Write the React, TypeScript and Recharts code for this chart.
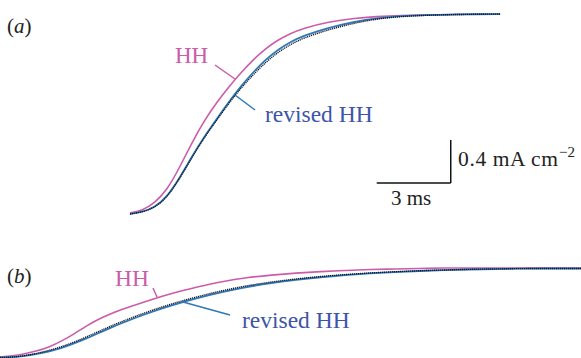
import { LineChart, Line, XAxis, YAxis, ReferenceLine } from 'recharts';

// panel (a): time in ms, current in mA cm^-2
const timeA = [0, 0.5, 1, 1.5, 2, 2.5, 3, 3.5, 4, 4.5, 5, 5.5, 6, 6.5, 7, 8, 9, 10, 11, 12, 13, 14, 15];
const hhA = [0.009, 0.033, 0.102, 0.223, 0.428, 0.66, 0.865, 1.033, 1.181, 1.316, 1.437, 1.54, 1.619, 1.679, 1.726, 1.786, 1.819, 1.837, 1.847, 1.851, 1.856, 1.858, 1.86];
const revisedA = [0, 0.019, 0.06, 0.158, 0.33, 0.53, 0.716, 0.879, 1.042, 1.191, 1.321, 1.437, 1.53, 1.6, 1.656, 1.73, 1.786, 1.823, 1.842, 1.851, 1.856, 1.858, 1.86];
const dataA = [0, 0.019, 0.058, 0.154, 0.325, 0.525, 0.71, 0.868, 1.03, 1.172, 1.298, 1.412, 1.505, 1.577, 1.635, 1.712, 1.772, 1.815, 1.838, 1.849, 1.855, 1.858, 1.86];

// panel (b)
const timeB = [0, 0.5, 1, 1.5, 2, 2.5, 3, 3.5, 4, 4.5, 5, 6, 7, 8, 9, 10, 11, 12, 13, 14, 15, 16, 17, 18, 19, 20, 21, 22, 23, 23.6];
const hhB = [0.005, 0.014, 0.033, 0.06, 0.098, 0.153, 0.219, 0.293, 0.358, 0.409, 0.451, 0.53, 0.6, 0.656, 0.707, 0.744, 0.767, 0.786, 0.8, 0.809, 0.819, 0.823, 0.828, 0.833, 0.833, 0.833, 0.833, 0.833, 0.833, 0.833];
const revisedB = [0, 0.003, 0.014, 0.033, 0.056, 0.088, 0.13, 0.177, 0.228, 0.279, 0.326, 0.414, 0.488, 0.553, 0.609, 0.656, 0.693, 0.723, 0.747, 0.767, 0.783, 0.795, 0.805, 0.812, 0.819, 0.823, 0.826, 0.828, 0.828, 0.828];
const dataB = [0, 0.003, 0.016, 0.038, 0.066, 0.1, 0.143, 0.191, 0.242, 0.293, 0.34, 0.428, 0.502, 0.567, 0.622, 0.668, 0.703, 0.731, 0.754, 0.772, 0.787, 0.798, 0.807, 0.814, 0.82, 0.824, 0.827, 0.828, 0.828, 0.828];

const rowsA = timeA.map((t, i) => ({ t, hh: hhA[i], revised: revisedA[i], data: dataA[i] }));
const rowsB = timeB.map((t, i) => ({ t, hh: hhB[i], revised: revisedB[i], data: dataB[i] }));

const PINK = '#cc5ca8';
const BLUE = '#2f78b8';
const TEXT_BLUE = '#3c55a8';
const FONT = 'Liberation Serif';

function Curves() {
  return [
    <Line key="hh" dataKey="hh" type="basis" stroke={PINK} strokeWidth={1.6} dot={false} activeDot={false} isAnimationActive={false} />,
    <Line key="rev" dataKey="revised" type="basis" stroke={BLUE} strokeWidth={1.8} dot={false} activeDot={false} isAnimationActive={false} />,
    <Line key="data" dataKey="data" type="basis" stroke="#111827" strokeWidth={1.4} strokeDasharray="1.2 0.8" dot={false} activeDot={false} isAnimationActive={false} />,
  ];
}

export default function App() {
  return (
    <div style={{ position: 'absolute', left: 0, top: 0, width: 581, height: 358, background: '#fff', overflow: 'hidden' }}>
      <div style={{ position: 'absolute', left: 0, top: 0 }}>
        <LineChart width={581} height={240} data={rowsA} margin={{ top: 0, right: 0, bottom: 0, left: 0 }}>
          <XAxis type="number" dataKey="t" domain={[-5.27, 18.28]} allowDataOverflow hide />
          <YAxis type="number" domain={[-0.2419, 1.9907]} allowDataOverflow hide />
          {Curves()}
          <ReferenceLine segment={[{ x: 10, y: 0.288 }, { x: 13, y: 0.288 }]} stroke="#111" strokeWidth={1.5} />
          <ReferenceLine segment={[{ x: 13, y: 0.288 }, { x: 13, y: 0.688 }]} stroke="#111" strokeWidth={1.5} />
        </LineChart>
      </div>
      <div style={{ position: 'absolute', left: 0, top: 240 }}>
        <LineChart width={581} height={118} data={rowsB} margin={{ top: 0, right: 0, bottom: 0, left: 0 }}>
          <XAxis type="number" dataKey="t" domain={[0, 23.55]} allowDataOverflow hide />
          <YAxis type="number" domain={[-0.0047, 1.093]} allowDataOverflow hide />
          {Curves()}
        </LineChart>
      </div>
      <svg width={581} height={358} fontFamily={FONT} style={{ position: 'absolute', left: 0, top: 0, pointerEvents: 'none' }}>
        <text x={7} y={33} fontSize={21} fill="#222">(<tspan fontStyle="italic">a</tspan>)</text>
        <text x={7} y={283} fontSize={21} fill="#222">(<tspan fontStyle="italic">b</tspan>)</text>

        <text x={175} y={63} fontSize={23} fill={PINK}>HH</text>
        <line x1={215} y1={65} x2={235} y2={79} stroke={PINK} strokeWidth={1.5} />
        <text x={265} y={122} fontSize={23.5} fill={TEXT_BLUE}>revised HH</text>
        <line x1={235} y1={95} x2={255} y2={110} stroke={BLUE} strokeWidth={1.5} />

        <text x={458} y={166} fontSize={21.5} fill="#222" textLength={100} lengthAdjust="spacing">0.4 mA cm</text>
        <text x={559} y={157} fontSize={15} fill="#222">−2</text>
        <text x={391} y={205} fontSize={21} fill="#222">3 ms</text>

        <text x={115} y={286} fontSize={23.5} fill={PINK}>HH</text>
        <line x1={153} y1={288} x2={157} y2={297} stroke={PINK} strokeWidth={1.5} />
        <text x={242} y={328} fontSize={23.5} fill={TEXT_BLUE}>revised HH</text>
        <line x1={183} y1={302} x2={230} y2={315} stroke={BLUE} strokeWidth={1.5} />
      </svg>
    </div>
  );
}
